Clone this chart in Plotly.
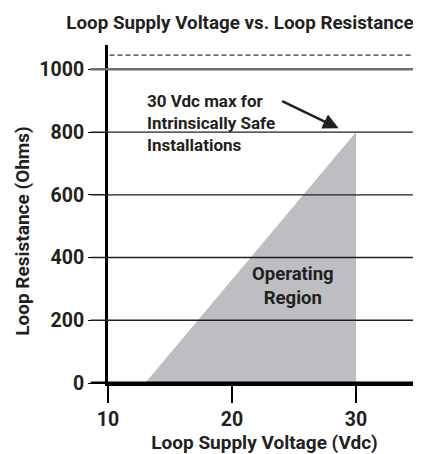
import plotly.graph_objects as go

# ---- data ----
region_voltage = [13.0, 30, 30]          # Vdc, operating region polygon
region_resistance = [0, 800, 0]          # Ohms
x_tick_values = [10, 20, 30]
y_tick_values = [0, 200, 400, 600, 800, 1000]
limit_resistance = 1045                  # dashed upper line
arrow_point = (28.6, 812)                # where the note arrow points (Vdc, Ohms)

FONT = "Roboto, Liberation Sans, sans-serif"
INK = "#231f20"

fig = go.Figure()
fig.add_trace(go.Scatter(
    x=region_voltage, y=region_resistance, fill="toself", mode="lines",
    fillcolor="#bdbec2", line=dict(width=0), hoverinfo="skip", showlegend=False,
))

# horizontal reference lines drawn above the shaded region
for r in y_tick_values:
    if r == 0:
        col, w = "#000000", 3
    elif r == 1000:
        col, w = "#6d6e71", 2.5
    else:
        col, w = "#231f20", 1.3
    fig.add_shape(type="line", xref="paper", yref="y", x0=-0.055, x1=1,
                  y0=r, y1=r, line=dict(color=col, width=w), layer="above")
fig.add_shape(type="line", xref="paper", yref="y", x0=0.005, x1=1,
              y0=limit_resistance, y1=limit_resistance,
              line=dict(color="#333333", width=1.3, dash="5px,3px"), layer="above")

fig.add_annotation(x=arrow_point[0], y=arrow_point[1], ax=-58, ay=-28,
                   text="", showarrow=True, arrowhead=2, arrowsize=1.25,
                   arrowwidth=2.5, arrowcolor=INK)
fig.add_annotation(text="30 Vdc max for<br>Intrinsically Safe<br>Installations",
                   x=13.0, y=938, xanchor="left", yanchor="top", align="left",
                   showarrow=False, font=dict(family=FONT, size=17, color=INK, weight="bold"))
fig.add_annotation(text="Operating<br>Region", x=24.95, y=308, xanchor="center",
                   yanchor="middle", align="center", showarrow=False,
                   font=dict(family=FONT, size=18.5, color=INK, weight="bold"))
fig.add_annotation(text="Loop Resistance (Ohms)", xref="paper", yref="paper",
                   x=-0.272, y=0.45, textangle=-90, showarrow=False,
                   xanchor="center", yanchor="middle",
                   font=dict(family=FONT, size=19, color=INK, weight="bold"))

fig.update_layout(
    width=413, height=446,
    margin=dict(l=100, r=0, t=37, b=71),
    paper_bgcolor="white", plot_bgcolor="white",
    title=dict(text="Loop Supply Voltage vs. Loop Resistance", x=232/413, xanchor="center",
               y=1 - 14/446, yanchor="middle", xref="container", yref="container",
               font=dict(family=FONT, size=18.8, color=INK, weight="bold")),
    xaxis=dict(range=[10, 35.24], tickvals=x_tick_values, showgrid=False, zeroline=False,
               showline=True, linecolor="black", linewidth=3,
               ticks="outside", ticklen=17, tickwidth=2.2, tickcolor="black",
               tickfont=dict(family=FONT, size=19.5, color=INK, weight="bold"),
               title=dict(text="Loop Supply Voltage (Vdc)", standoff=5,
                          font=dict(family=FONT, size=19, color=INK, weight="bold"))),
    yaxis=dict(range=[0, 1077.5], tickvals=y_tick_values, showgrid=False, zeroline=False,
               showline=True, linecolor="black", linewidth=3,
               ticks="outside", ticklen=17, tickwidth=1.3, tickcolor="black",
               tickfont=dict(family=FONT, size=19.5, color=INK, weight="bold")),
)

fig.write_html("out.html")
